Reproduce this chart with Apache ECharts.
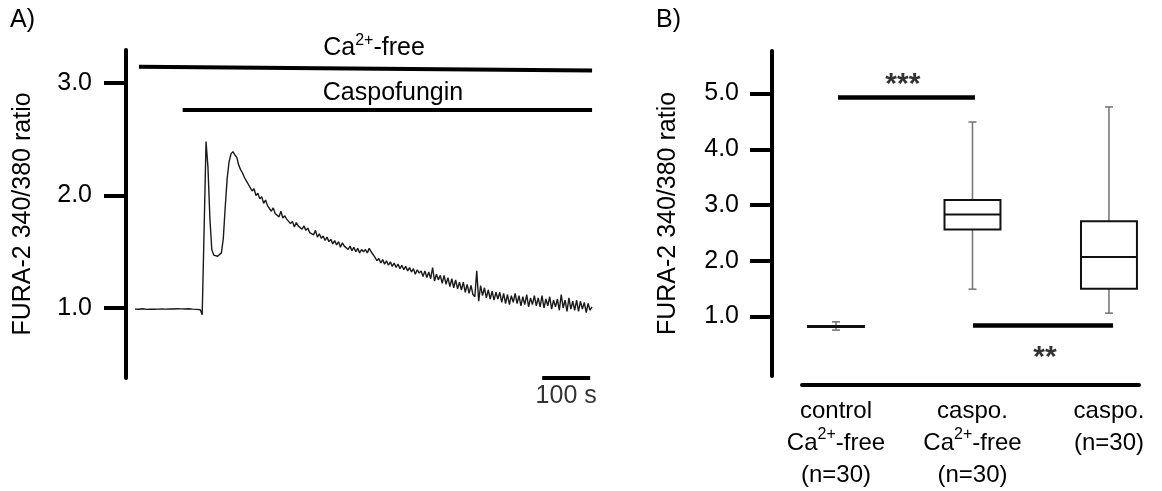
<!DOCTYPE html>
<html><head><meta charset="utf-8">
<script src="https://cdn.jsdelivr.net/npm/echarts@6/dist/echarts.min.js"></script>
<style>html,body{margin:0;padding:0;background:#fff}#c{width:1162px;height:491px}</style>
</head><body><div id="c"></div>
<script>
// ---------- Panel A data ----------
const traceStartSec = 18.75;
const traceStepSec = 4;
const traceRatio = [
0.990,0.992,0.989,0.991,0.993,0.990,0.988,0.991,0.990,0.993,
0.989,0.992,0.990,0.988,0.991,0.994,0.990,0.989,0.992,0.990,
0.991,0.988,0.993,0.990,0.992,0.989,0.991,0.990,0.993,0.989,
0.990,0.992,0.988,0.990,0.985,
0.94,1.70,2.48,2.25,1.80,1.52,1.47,1.46,1.46,1.47,1.49,1.62,1.90,2.15,2.30,2.37,2.39,2.36,2.34,2.27,2.23,2.20,2.16,2.13,2.10,2.07,
2.04,2.06,2.00,2.02,1.97,1.99,1.93,1.96,1.91,
1.90,1.86,1.89,1.84,1.85,1.81,1.86,1.80,1.82,1.79,
1.78,1.75,1.77,1.72,1.76,1.73,1.74,1.70,1.73,1.69,
1.71,1.67,1.68,1.65,1.69,1.63,1.66,1.62,1.64,1.60,
1.63,1.59,1.61,1.57,1.60,1.56,1.59,1.54,1.58,1.55,
1.56,1.52,1.55,1.51,1.54,1.50,1.53,1.49,1.52,1.50,
1.52,1.49,1.53,1.50,1.51,
1.45,1.42,1.44,1.40,1.43,
1.39,1.42,1.38,1.41,1.37,1.40,1.36,1.39,1.35,1.38,
1.34,1.37,1.33,1.36,1.32,1.35,1.30,1.34,1.31,1.33,
1.28,1.33,1.27,1.32,1.26,1.36,1.24,1.30,1.25,1.29,
1.22,1.29,1.21,1.27,1.19,1.26,1.18,1.25,1.17,1.23,
1.16,1.23,1.14,1.21,1.13,1.20,1.12,1.10,1.33,1.06,
1.20,1.11,1.18,1.09,1.16,1.08,1.15,1.07,1.14,1.08,
1.14,1.05,1.13,1.04,1.12,1.03,1.11,1.05,1.13,1.04,
1.11,1.02,1.10,1.03,1.12,1.01,1.09,1.03,1.11,1.02,
1.09,1.01,1.11,1.00,1.08,1.02,1.10,0.99,1.07,1.01,
1.08,0.98,1.12,1.00,1.07,0.97,1.09,0.99,1.06,0.98,
1.07,0.97,1.06,0.99,1.05,0.96,1.04,0.98,1.01
];
const caFreeBar = [[27, 3.145], [971, 3.11]];
const caspoBar = [[118, 2.76], [971, 2.76]];
const scaleBar = [[867, 0.378], [967, 0.378]];
const scaleBarText = '100 s';
const ticksA = [1, 2, 3];

// ---------- Panel B data ----------
const groupPos = [1, 2, 3];
const groupLabels = ['control\nCa2+-free\n(n=30)', 'caspo.\nCa2+-free\n(n=30)', 'caspo.\n(n=30)'];
const boxMin = [0.757, 1.49, 1.06];
const boxQ1 = [0.810, 2.56, 1.50];
const boxMedian = [0.820, 2.83, 2.07];
const boxQ3 = [0.832, 3.09, 2.71];
const boxMax = [0.905, 4.49, 4.76];
const ticksB = [1, 2, 3, 4, 5];
const sig3Bar = [[1.015, 4.93], [2.018, 4.93]];
const sig2Bar = [[2.004, 0.84], [3.03, 0.84]];
const sig3Mark = [1.49, 5.16];
const sig2Mark = [2.531, 0.26];

const FONT = "'Liberation Sans', Arial, sans-serif";
const traceData = traceRatio.map((v, i) => [traceStartSec + i * traceStepSec, v]);
const boxData = groupPos.map((g, i) => [g, boxMin[i], boxQ1[i], boxMedian[i], boxQ3[i], boxMax[i]]);
const supRich = { sup: { fontSize: 16, lineHeight: 24, verticalAlign: 'top', fontFamily: FONT, color: '#000' } };

const chart = echarts.init(document.getElementById('c'), null, { renderer: 'canvas' });
const yAxisCommon = (ticks) => ({
  type: 'value',
  axisLine: { show: true, onZero: false, lineStyle: { color: '#000', width: 4 } },
  axisTick: { show: true, customValues: ticks, length: 22, lineStyle: { color: '#000', width: 4 } },
  axisLabel: { customValues: ticks, formatter: v => v.toFixed(1), fontSize: 25, fontFamily: FONT, color: '#000' },
  splitLine: { show: false },
  name: 'FURA-2 340/380 ratio',
  nameLocation: 'middle',
  nameRotate: 90,
  nameTextStyle: { fontSize: 25, fontFamily: FONT, color: '#000' }
});

const yA = yAxisCommon(ticksA);
Object.assign(yA, { gridIndex: 0, min: 0.378, max: 3.293, nameGap: 90 });
yA.axisLabel.margin = 34;
const yB = yAxisCommon(ticksB);
Object.assign(yB, { gridIndex: 1, min: -0.067, max: 5.764, nameGap: 91, offset: 30 });
yB.axisLabel.margin = 33;

chart.setOption({
  animation: false,
  backgroundColor: '#fff',
  grid: [
    { left: 126, top: 50, width: 474, height: 328 },
    { left: 802, top: 51, width: 337, height: 328 }
  ],
  xAxis: [
    { gridIndex: 0, type: 'value', min: 0, max: 987.5, show: false },
    { gridIndex: 1, type: 'value', min: 0.751, max: 3.22, offset: 9,
      axisLine: { show: true, onZero: false, lineStyle: { color: '#000', width: 4 } },
      axisTick: { show: false }, splitLine: { show: false },
      axisLabel: { customValues: groupPos, margin: 10, lineHeight: 32, fontSize: 24, fontFamily: FONT, color: '#000',
        formatter: v => groupLabels[Math.round(v) - 1].replace('2+', '{sup|2+}'), rich: supRich } }
  ],
  yAxis: [yA, yB],
  graphic: [
    { type: 'text', left: 10, top: 8, style: { text: 'A)', font: '25px ' + FONT, fill: '#000' } },
    { type: 'text', left: 656, top: 8, style: { text: 'B)', font: '25px ' + FONT, fill: '#000' } },
    { type: 'text', x: 374, y: 48, style: { text: 'Ca{sup|2+}-free', font: '25px ' + FONT, fill: '#000', align: 'center', verticalAlign: 'middle', lineHeight: 30, rich: supRich } },
    { type: 'text', x: 393, y: 93, style: { text: 'Caspofungin', font: '25px ' + FONT, fill: '#000', align: 'center', verticalAlign: 'middle' } }
  ],
  series: [
    { type: 'line', xAxisIndex: 0, yAxisIndex: 0, data: traceData, showSymbol: false, symbol: 'none',
      lineStyle: { color: '#1a1a1a', width: 1.4 }, silent: true },
    { type: 'line', xAxisIndex: 0, yAxisIndex: 0, data: caFreeBar, symbol: 'none', clip: false, lineStyle: { color: '#000', width: 4 } },
    { type: 'line', xAxisIndex: 0, yAxisIndex: 0, data: caspoBar, symbol: 'none', clip: false, lineStyle: { color: '#000', width: 4 } },
    { type: 'line', xAxisIndex: 0, yAxisIndex: 0, data: scaleBar, symbol: 'none', clip: false, lineStyle: { color: '#000', width: 4 } },
    { type: 'scatter', xAxisIndex: 0, yAxisIndex: 0, symbolSize: 0, clip: false,
      data: [[(scaleBar[0][0] + scaleBar[1][0]) / 2, scaleBar[0][1]]],
      label: { show: true, position: 'bottom', distance: 6, formatter: scaleBarText, fontSize: 25, fontFamily: FONT, color: '#000' } },
    { type: 'custom', xAxisIndex: 1, yAxisIndex: 1, data: boxData, clip: false,
      encode: { x: 0, y: [1, 2, 3, 4, 5] },
      renderItem: (params, api) => {
        const x = api.value(0);
        const pMin = api.coord([x, api.value(1)]);
        const pQ1 = api.coord([x, api.value(2)]);
        const pMed = api.coord([x, api.value(3)]);
        const pQ3 = api.coord([x, api.value(4)]);
        const pMax = api.coord([x, api.value(5)]);
        const w = api.size([0.41, 0])[0];
        const cap = 4;
        const ws = { stroke: '#7a7a7a', lineWidth: 1.6 };
        const cx = pMed[0];
        return { type: 'group', children: [
          { type: 'line', shape: { x1: cx, y1: pMin[1], x2: cx, y2: pQ1[1] }, style: ws },
          { type: 'line', shape: { x1: cx, y1: pQ3[1], x2: cx, y2: pMax[1] }, style: ws },
          { type: 'line', shape: { x1: cx - cap, y1: pMin[1], x2: cx + cap, y2: pMin[1] }, style: ws },
          { type: 'line', shape: { x1: cx - cap, y1: pMax[1], x2: cx + cap, y2: pMax[1] }, style: ws },
          { type: 'rect', shape: { x: cx - w / 2, y: pQ3[1], width: w, height: pQ1[1] - pQ3[1] }, style: { fill: '#fff', stroke: '#111', lineWidth: 2 } },
          { type: 'line', shape: { x1: cx - w / 2, y1: pMed[1], x2: cx + w / 2, y2: pMed[1] }, style: { stroke: '#111', lineWidth: 2 } }
        ] };
      } },
    { type: 'line', xAxisIndex: 1, yAxisIndex: 1, data: sig3Bar, symbol: 'none', clip: false, lineStyle: { color: '#000', width: 4.5 } },
    { type: 'line', xAxisIndex: 1, yAxisIndex: 1, data: sig2Bar, symbol: 'none', clip: false, lineStyle: { color: '#000', width: 4.5 } },
    { type: 'scatter', xAxisIndex: 1, yAxisIndex: 1, symbolSize: 0, clip: false,
      data: [{ value: sig3Mark, name: '***' }, { value: sig2Mark, name: '**' }],
      label: { show: true, position: 'inside', formatter: p => p.name, fontSize: 30, fontWeight: 'bold', fontFamily: FONT, color: '#000' } }
  ]
});
</script>
</body></html>
